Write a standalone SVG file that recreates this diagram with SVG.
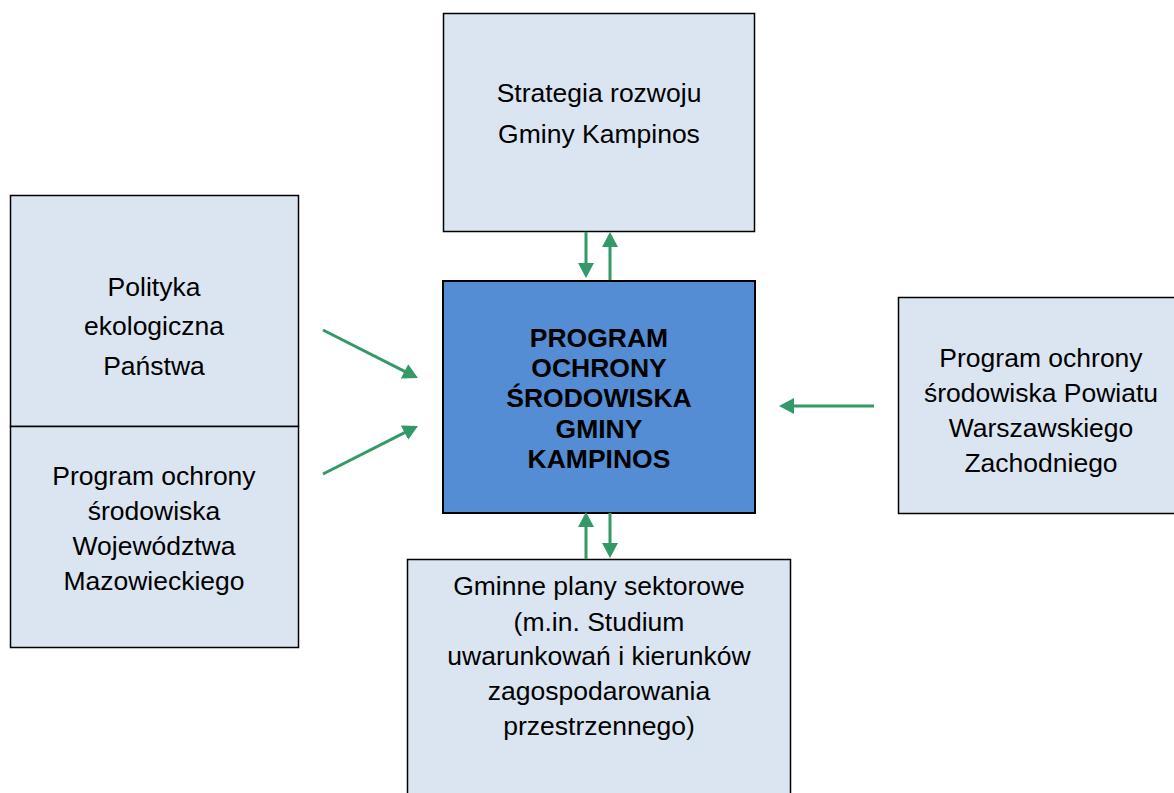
<svg xmlns="http://www.w3.org/2000/svg" width="1174" height="793" viewBox="0 0 1174 793">
<style>
.box{fill:#DBE5F1;stroke:#000;stroke-width:1.5}
.main{fill:#548DD4;stroke:#000;stroke-width:2}
.t{font-family:"Liberation Sans",Arial,sans-serif;font-size:26.5px;fill:#000;text-anchor:middle}
.b{font-weight:bold}
.c{stroke:#339966;stroke-width:3;fill:none;marker-end:url(#ah)}
</style>
<defs>
<marker id="ah" viewBox="0 0 15 16" refX="10" refY="8" markerWidth="15" markerHeight="16" markerUnits="userSpaceOnUse" orient="auto">
<path d="M0,0 L15,8 L0,16 z" fill="#339966"/>
</marker>
</defs>
<rect width="1174" height="793" fill="#fff"/>
<g id="strategia">
<rect class="box" x="443.5" y="13.5" width="311" height="218"/>
<text class="t" x="599" y="102">Strategia rozwoju</text>
<text class="t" x="599" y="143">Gminy Kampinos</text>
</g>
<g id="polityka">
<rect class="box" x="10.5" y="195.5" width="288" height="231"/>
<text class="t" x="154" y="296">Polityka</text>
<text class="t" x="154" y="335">ekologiczna</text>
<text class="t" x="154" y="375">Państwa</text>
</g>
<g id="wojewodztwo">
<rect class="box" x="10.5" y="426.5" width="288" height="221"/>
<text class="t" x="154" y="485">Program ochrony</text>
<text class="t" x="154" y="520">środowiska</text>
<text class="t" x="154" y="555">Województwa</text>
<text class="t" x="154" y="590">Mazowieckiego</text>
</g>
<g id="program">
<rect class="main" x="443" y="281" width="312" height="232"/>
<text class="t b" x="599" y="347">PROGRAM</text>
<text class="t b" x="599" y="377">OCHRONY</text>
<text class="t b" x="599" y="407">ŚRODOWISKA</text>
<text class="t b" x="599" y="438">GMINY</text>
<text class="t b" x="599" y="468">KAMPINOS</text>
</g>
<g id="powiat">
<rect class="box" x="898.5" y="297.5" width="290" height="216"/>
<text class="t" x="1041" y="367">Program ochrony</text>
<text class="t" x="1041" y="402">środowiska Powiatu</text>
<text class="t" x="1041" y="437">Warszawskiego</text>
<text class="t" x="1041" y="472">Zachodniego</text>
</g>
<g id="gminne">
<rect class="box" x="407.5" y="559.5" width="383" height="250"/>
<text class="t" x="599" y="595">Gminne plany sektorowe</text>
<text class="t" x="599" y="631">(m.in. Studium</text>
<text class="t" x="599" y="665">uwarunkowań i kierunków</text>
<text class="t" x="599" y="700">zagospodarowania</text>
<text class="t" x="599" y="735">przestrzennego)</text>
</g>
<g id="connectors">
<line class="c" x1="586" y1="232" x2="586" y2="273"/>
<line class="c" x1="610" y1="280" x2="610" y2="237"/>
<line class="c" x1="586" y1="559" x2="586" y2="517"/>
<line class="c" x1="610" y1="513" x2="610" y2="553"/>
<line class="c" x1="323" y1="330" x2="413.5" y2="375.8"/>
<line class="c" x1="323" y1="474" x2="413.5" y2="428.2"/>
<line class="c" x1="874" y1="406" x2="784" y2="406"/>
</g>
</svg>
